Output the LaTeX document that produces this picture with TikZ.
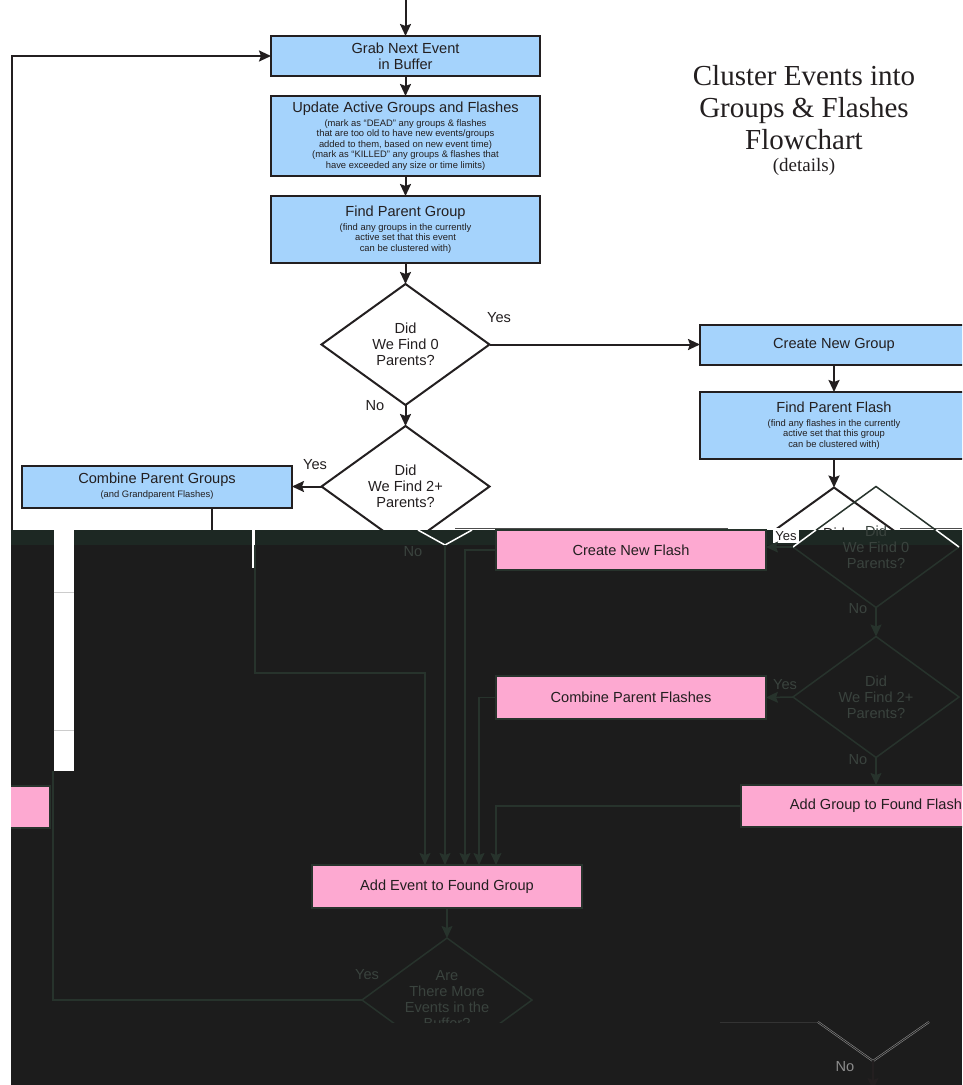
\documentclass[tikz,border=0pt]{standalone}
\usepackage{fontspec}
\setmainfont{Liberation Sans}
\newfontfamily\titlefont{Liberation Serif}
\usetikzlibrary{shapes.geometric,arrows.meta,calc}
\definecolor{ink}{HTML}{231F20}
\definecolor{boxblue}{HTML}{A5D3FC}
\definecolor{boxpink}{HTML}{FDA9D1}
\definecolor{darkbg}{HTML}{1C1C1C}
\definecolor{darkband}{HTML}{1D2823}
\definecolor{dkline}{HTML}{27332C}
\definecolor{dktext}{HTML}{3A433E}
\newcommand\smtxt{\fontsize{9.4}{10.5}\selectfont}
\newcommand\bigtxt{\fontsize{14.6}{16}\selectfont}
\tikzset{
  big/.style={font=\bigtxt},
  bluebox/.style={rectangle, draw=ink, fill=boxblue, line width=2pt, minimum width=269pt, text=ink, align=center, inner sep=2pt, outer sep=0pt, big},
  withsub/.style={font=\smtxt},
  decision/.style={diamond, aspect=1.4, draw=ink, line width=2pt, fill=white, minimum width=168pt, minimum height=121pt, inner sep=0pt, outer sep=0pt, align=center, text=ink, big},
  flow/.style={draw=ink, line width=2pt, -{Stealth[length=12pt,width=11pt,inset=2pt]}},
  plainline/.style={draw=ink, line width=2pt},
  lbl/.style={text=ink, big, inner sep=0pt},
  pinkbox/.style={rectangle, draw=dkline, fill=boxpink, line width=1.5pt, minimum width=270pt, text=ink, align=center, outer sep=0pt, big},
  dkdecision/.style={diamond, aspect=1.4, draw=dkline, line width=1.5pt, minimum width=166pt, minimum height=121pt, inner sep=0pt, outer sep=0pt, align=center, text=dktext, big},
  dkflow/.style={draw=dkline, line width=1.5pt, -{Stealth[length=12pt,width=11pt,inset=2pt]}},
  dkplain/.style={draw=dkline, line width=1.5pt},
  dklbl/.style={text=dktext, big, inner sep=0pt},
}
\begin{document}
\begin{tikzpicture}[x=1pt,y=-1pt]
\useasboundingbox (0,0) rectangle (962,1085);
\clip (0,0) rectangle (962,1085);
\fill[white] (0,0) rectangle (962,1085);

% ---------- top layer ----------
\node[bluebox, minimum height=40pt] (grab) at (405.5,56) {Grab Next Event\\in Buffer};
\node[bluebox, withsub, minimum height=80pt] (update) at (405.5,136) {\bigtxt Update Active Groups and Flashes\\[3pt](mark as “DEAD” any groups \& flashes\\that are too old to have new events/groups\\added to them, based on new event time)\\(mark as “KILLED” any groups \& flashes that\\have exceeded any size or time limits)};
\node[bluebox, withsub, minimum height=67pt] (findpg) at (405.5,229.5) {\bigtxt Find Parent Group\\[3.5pt](find any groups in the currently\\active set that this event\\can be clustered with)};
\node[decision] (d1) at (405.5,344.5) {Did\\We Find 0\\Parents?};
\node[decision] (d2) at (405.5,486.5) {Did\\We Find 2+\\Parents?};
\node[bluebox, withsub, minimum width=270pt, minimum height=42pt] (cpg) at (157,486.5) {\bigtxt Combine Parent Groups\\[3.5pt](and Grandparent Flashes)};
\node[bluebox, minimum width=268pt, minimum height=40pt] (cng) at (834,344.5) {Create New Group};
\node[bluebox, withsub, minimum width=268pt, minimum height=67pt] (fpf) at (834,425.5) {\bigtxt Find Parent Flash\\[3.5pt](find any flashes in the currently\\active set that this group\\can be clustered with)};
\node[decision] (d3) at (834,548) {};
\node[lbl] (d3txt) at (834,533) {Did};

\node[font=\titlefont\fontsize{29}{32}\selectfont, text=ink, align=center] (title) at (804,108) {Cluster Events into\\Groups \& Flashes\\Flowchart};
\node[font=\titlefont\fontsize{19}{20}\selectfont, text=ink] (details) at (804,167) {(details)};

\coordinate (start) at (405.5,0);
\draw[flow] (start) -- (grab.north);
\draw[flow] (grab.south) -- (update.north);
\draw[flow] (update.south) -- (findpg.north);
\draw[flow] (findpg.south) -- (d1.north);
\draw[flow] (d1.east) -- (cng.west);
\draw[flow] (d1.south) -- (d2.north);
\draw[flow] (d2.west) -- (cpg.east);
\draw[flow] (cng.south) -- (fpf.north);
\draw[flow] (fpf.south) -- (d3.north);
\coordinate (cpgdown) at (212,532);
\draw[plainline] (cpg.south -| cpgdown) -- (cpgdown);
\coordinate (loopin) at (12,532);
\draw[flow] (loopin) |- (grab.west);

\node[lbl] (yes1) at (499,318) {Yes};
\node[lbl] (no1) at (375,406) {No};
\node[lbl] (yes2) at (315,465) {Yes};

% ---------- dark layer ----------
\fill[darkbg] (11,530) rectangle (962,1085);
\fill[darkband] (11,530) rectangle (962,545);
\fill[white] (53.5,530) rectangle (74,771);
\draw[black!20, line width=0.8pt] (53.5,592) -- (74,592) (53.5,730) -- (74,730);
\fill[white] (252,530) rectangle (255,568);
\draw[black!70, line width=0.8pt] (455,528.5) -- (728,528.5) (900,528.5) -- (962,528.5);

\node[pinkbox, minimum height=40pt] (cnf) at (631,550) {Create New Flash};
\node[pinkbox, minimum height=43pt] (cpf) at (631,697.5) {Combine Parent Flashes};
\node[pinkbox, minimum height=42pt] (agf) at (876,806) {Add Group to Found Flash};
\node[pinkbox, minimum height=43pt] (aeg) at (447,886.5) {Add Event to Found Group};
\begin{scope}
\clip (11,700) rectangle (100,900);
\node[pinkbox, minimum height=42pt] (ppink) at (-85,807) {};
\end{scope}

\node[dkdecision] (dd3) at (876,547) {Did\\We Find 0\\Parents?};
\node[dkdecision] (dd4) at (876,697) {Did\\We Find 2+\\Parents?};
\begin{scope}
\clip (0,0) rectangle (962,1022);
\node[dkdecision, minimum width=170pt, minimum height=124pt] (dd5) at (447,1000) {Are\\There More\\Events in the\\Buffer?};
\node[dklbl] (yes5) at (367,975) {Yes};
\end{scope}

% white outline traces in the band
\coordinate (dd2bot) at (445,545);
\draw[white, line width=1.5pt] (418,530) -- (dd2bot) -- (472,530);
\draw[white, line width=1.5pt] (dd3.west) -- (816,530) (936,530) -- (dd3.east);
\fill[white] (773,528) rectangle (799,543);
\node[lbl, font=\fontsize{13}{14}\selectfont] (yes3) at (786,536) {Yes};

% dark connectors
\coordinate (c255) at (255,545);
\coordinate (c425) at (425,673);
\coordinate (x465) at (465,0);
\coordinate (x479) at (479,0);
\coordinate (x496) at (496,0);
\draw[dkflow] (c255) |- (c425) -- (c425 |- aeg.north);
\draw[dkflow] (dd2bot) -- (dd2bot |- aeg.north);
\draw[dkflow] (cnf.west) -| (x465 |- aeg.north);
\draw[dkflow] (cpf.west) -| (x479 |- aeg.north);
\draw[dkflow] (agf.west) -| (x496 |- aeg.north);
\draw[dkflow] (dd3.west) -- (dd3.west -| cnf.east);
\draw[dkflow] (dd3.south) -- (dd4.north);
\draw[dkflow] (dd4.west) -- (cpf.east);
\draw[dkflow] (dd4.south) -- (agf.north);
\draw[dkflow] (aeg.south) -- (dd5.north);
\coordinate (lloop) at (53,771);
\draw[dkplain] (dd5.west) -| (lloop);

\node[dklbl] (no2) at (413,552) {No};
\node[dklbl] (no3) at (858,609) {No};
\node[dklbl] (yes4) at (785,685) {Yes};
\node[dklbl] (no4) at (858,760) {No};

% bottom-right trace
\draw[black!80, line width=0.6pt] (720,1022) -- (818,1022);
\coordinate (vl) at (818,1022);
\coordinate (vb) at (873,1061);
\coordinate (vr) at (929,1022);
\draw[draw=black!45, double=darkbg, double distance=0.8pt, line width=0.6pt] (vl) -- (vb) -- (vr);
\coordinate (vout) at (873,1090);
\draw[flow, line width=1.5pt] (vb) -- (vout);
\node[text=black!45, big, inner sep=0pt] (no5) at (845,1067) {No};
\end{tikzpicture}
\end{document}
